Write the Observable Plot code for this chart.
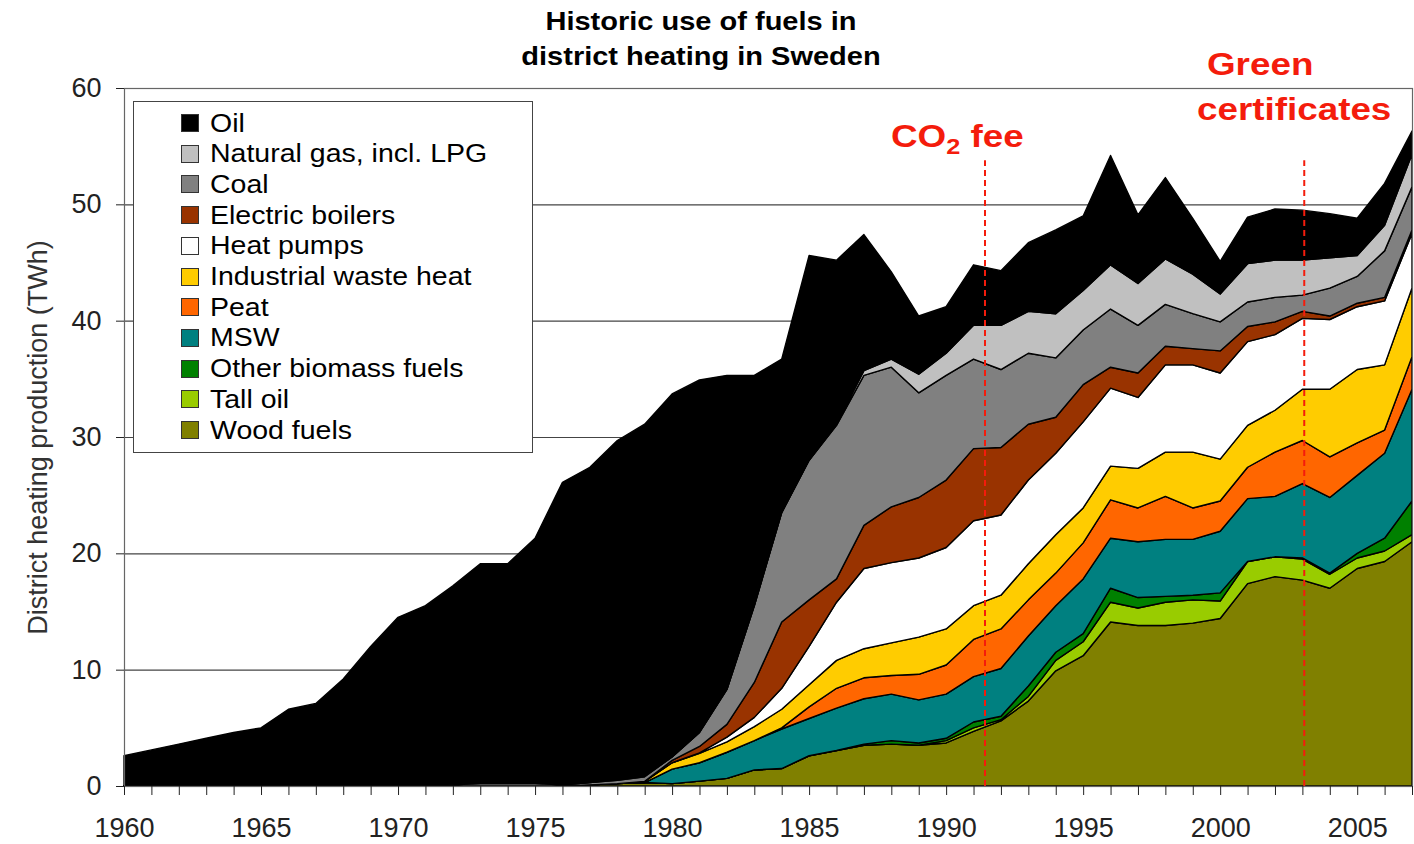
<!DOCTYPE html>
<html>
<head>
<meta charset="utf-8">
<script src="https://cdn.jsdelivr.net/npm/d3@7"></script>
<script src="https://cdn.jsdelivr.net/npm/@observablehq/plot@0.6"></script>
<style>
  body { margin: 0; background: #fff; font-family: "Liberation Sans", Arial, sans-serif; }
  #wrap { position: relative; width: 1414px; height: 844px; overflow: hidden; }
  #chart { position: absolute; left: 0; top: 0; }
  #title { position: absolute; left: 0; width: 1402px; top: 4px; text-align: center; font-weight: bold; font-size: 25px; line-height: 35px; color: #000; transform: scaleX(1.16); transform-origin: 701px 0; }
  .note { position: absolute; color: #f41c0c; font-weight: bold; font-size: 32px; line-height: 45px; white-space: nowrap; transform: scaleX(1.15); transform-origin: 0 0; }
  .note sub { font-size: 22px; vertical-align: -7px; line-height: 0; }
  #legend { position: absolute; left: 133px; top: 101px; width: 400px; height: 352px; border: 1.5px solid #444; background: #fff; box-sizing: border-box; }
  .row { position: absolute; left: 47px; height: 30px; display: flex; align-items: center; font-size: 25px; color: #000; white-space: nowrap; }
  .row span { display: inline-block; transform: scaleX(1.14); transform-origin: 0 50%; }
  .sw { width: 16px; height: 16px; border: 1px solid #333; margin-right: 11px; flex: none; }
</style>
</head>
<body>
<div id="wrap">
  <div id="chart"></div>
  <div id="title"></div>
  <div id="legend"></div>
  <div id="notes"></div>
</div>
<script>
// ---------- data ----------
const years = [1960,1961,1962,1963,1964,1965,1966,1967,1968,1969,
               1970,1971,1972,1973,1974,1975,1976,1977,1978,1979,
               1980,1981,1982,1983,1984,1985,1986,1987,1988,1989,
               1990,1991,1992,1993,1994,1995,1996,1997,1998,1999,
               2000,2001,2002,2003,2004,2005,2006,2007];

// stacking order bottom -> top
const fuels = ["Wood fuels","Tall oil","Other biomass fuels","MSW","Peat","Industrial waste heat",
               "Heat pumps","Electric boilers","Coal","Natural gas, incl. LPG","Oil"];
const fuelColors = ["#808000","#99cc00","#008000","#008080","#ff6600","#ffcc00",
                    "#ffffff","#993300","#808080","#c0c0c0","#000000"];

const woodFuels = [0,0,0,0,0,0,0,0,0,0, 0,0,0,0,0,0,0,
  0.1,0.2,0.3,0.2,0.42,0.66,1.38,1.5,2.6,3.05,3.5,3.6,3.5,3.7,4.7,5.6,7.3,9.9,11.2,14.1,
  13.8,13.8,14.0,14.4,17.4,18.0,17.7,17.0,18.7,19.3,21.0];
const tallOil = [0,0,0,0,0,0,0,0,0,0, 0,0,0,0,0,0,0,0,0,0, 0,0,0,0,0,0,0,0,0,0,
  0.2,0.3,0.1,0.4,0.9,1.2,1.7,1.5,2.0,2.0,1.5,1.9,1.7,1.8,1.2,0.9,0.9,0.6];
const otherBiomass = [0,0,0,0,0,0,0,0,0,0, 0,0,0,0,0,0,0,0,0,0, 0,0,0,0,0,0,0,
  0.1,0.3,0.2,0.2,0.5,0.3,0.9,0.7,0.7,1.2,0.9,0.5,0.4,0.7,0.0,0.0,0.1,0.1,0.4,1.1,2.9];
const msw = [0,0,0,0,0,0,0,0,0,0, 0,0,0,0,0,0,0,0,0,0,
  1.25,1.58,2.24,2.52,3.4,3.2,3.65,3.9,4.0,3.7,3.8,3.9,4.1,4.3,4.0,4.7,4.3,4.8,4.9,4.8,
  5.3,5.4,5.2,6.4,6.5,6.7,7.3,9.6];
const peat = [0,0,0,0,0,0,0,0,0,0, 0,0,0,0,0,0,0,0,0,0, 0,0,0,0,
  0.1,1.0,1.7,1.8,1.6,2.2,2.5,3.2,3.4,3.1,2.8,3.1,3.3,2.9,3.7,2.7,2.6,2.7,3.8,3.7,3.5,2.8,2.0,2.8];
const industrialWasteHeat = [0,0,0,0,0,0,0,0,0,0, 0,0,0,0,0,0,0,0,0,
  0.1,0.55,0.8,0.9,1.2,1.6,1.9,2.4,2.5,2.8,3.2,3.1,2.9,2.9,3.1,3.3,3.0,2.9,3.4,3.8,4.8,
  3.6,3.6,3.6,4.4,5.8,6.3,5.6,5.9];
const heatPumps = [0,0,0,0,0,0,0,0,0,0, 0,0,0,0,0,0,0,0,0,0, 0,
  0.05,0.4,0.8,1.8,3.3,5.0,6.9,6.9,6.8,7.0,7.3,6.9,7.2,7.0,7.4,6.7,6.1,7.5,7.5,7.4,7.2,6.5,6.1,6.0,5.4,5.5,4.7];
const electricBoilers = [0,0,0,0,0,0,0,0,0,0, 0,0,0,0,0,0,0,0,0,0,
  0.2,0.55,1.1,3.0,5.7,4.0,2.0,3.7,4.8,5.2,5.8,6.2,5.8,4.8,3.1,3.2,1.8,2.1,1.6,1.4,
  1.9,1.3,1.1,0.6,0.3,0.3,0.3,0.3];
const coal = [0,0,0,0,0,0,0,0,0,0, 0,0,
  0.1,0.2,0.2,0.2,0.1,0.2,0.3,0.4,
  0.3,1.2,3.0,6.6,9.4,12.0,13.2,12.9,12.0,9.0,
  9.0,7.7,6.7,6.1,5.1,4.7,5.0,4.1,3.6,3.0,
  2.5,2.1,2.1,1.4,2.4,2.3,4.0,3.7];
const naturalGas = [0,0,0,0,0,0,0,0,0,0, 0,0,0,
  0.1,0.1,0.1,0,0,0.1,0.1,
  0,0,0,0,0,0,0.1,0.4,0.7,1.6,
  1.9,2.9,3.8,3.6,3.8,3.4,3.8,3.6,3.9,3.4,
  2.4,3.3,3.2,3.0,2.6,1.8,2.2,2.8];
const oil = [2.6,3.1,3.6,4.1,4.6,5.0,6.6,7.1,9.2,12.0,
  14.5,15.5,17.1,18.8,18.8,21.0,26.0,27.1,29.1,30.2,
  31.2,30.3,27.0,19.8,13.2,17.6,14.1,11.7,7.5,5.0,
  4.0,5.2,4.7,5.9,7.2,6.4,9.4,5.9,7.0,4.8,
  2.8,4.0,4.4,4.3,3.8,3.2,3.6,2.0];

const yTicks = [0,10,20,30,40,50,60];
const titleLines = ["Historic use of fuels in", "district heating in Sweden"];
const yTitle = "District heating production (TWh)";
const policyYears = [1991.4, 2003.05];

// ---------- build table ----------
const seriesValues = [woodFuels, tallOil, otherBiomass, msw, peat, industrialWasteHeat,
                      heatPumps, electricBoilers, coal, naturalGas, oil];
const table = [];
fuels.forEach((f, i) => years.forEach((yr, j) => table.push({year: yr, fuel: f, value: seriesValues[i][j]})));

const FONT = "Liberation Sans, Arial, sans-serif";

const chart = Plot.plot({
  width: 1414, height: 844,
  marginLeft: 124, marginRight: 2, marginTop: 88, marginBottom: 58,
  style: {fontFamily: FONT, fontSize: "27px", color: "#222", background: "white", overflow: "visible"},
  x: {domain: [1960, 2007]},
  y: {domain: [0, 60]},
  color: {domain: fuels, range: fuelColors},
  marks: [
    Plot.gridY(yTicks, {stroke: "#444", strokeOpacity: 1, strokeWidth: 1.2}),
    Plot.areaY(table, {x: "year", y: "value", z: "fuel", fill: "fuel", order: fuels,
                       stroke: "#000", strokeWidth: 1.4, strokeLinejoin: "round"}),
    Plot.ruleX(policyYears, {y1: 0, y2: 53.8, stroke: "#f41c0c", strokeWidth: 2, strokeDasharray: "6,4"}),
    Plot.frame({stroke: "#666", strokeWidth: 1.2}),
    Plot.axisX(years, {tickSize: 9, tickPadding: 22, fontSize: 27, label: null,
                       tickFormat: d => d % 5 === 0 ? String(d) : ""}),
    Plot.axisY(yTicks, {tickSize: 8, tickPadding: 15, fontSize: 27, label: null}),
    Plot.text([yTitle], {text: d => d, frameAnchor: "left", textAnchor: "middle", rotate: -90,
                         dx: -86, fontSize: 27, fill: "#333"})
  ]
});
document.getElementById("chart").appendChild(chart);

// ---------- title ----------
document.getElementById("title").innerHTML = titleLines.join("<br>");

// ---------- legend (top to bottom = reverse stacking order) ----------
const legend = document.getElementById("legend");
fuels.slice().reverse().forEach((f, i) => {
  const c = fuelColors[fuels.indexOf(f)];
  const row = document.createElement("div");
  row.className = "row";
  row.style.top = (6 + i * 30.7) + "px";
  row.innerHTML = `<div class="sw" style="background:${c}"></div><span>${f}</span>`;
  legend.appendChild(row);
});

// ---------- annotations ----------
const notes = document.getElementById("notes");
notes.innerHTML =
  `<div class="note" style="left:891px;top:114px">CO<sub>2</sub> fee</div>` +
  `<div class="note" style="left:1207px;top:42px">Green</div>` +
  `<div class="note" style="left:1197px;top:87px">certificates</div>`;
</script>
</body>
</html>
